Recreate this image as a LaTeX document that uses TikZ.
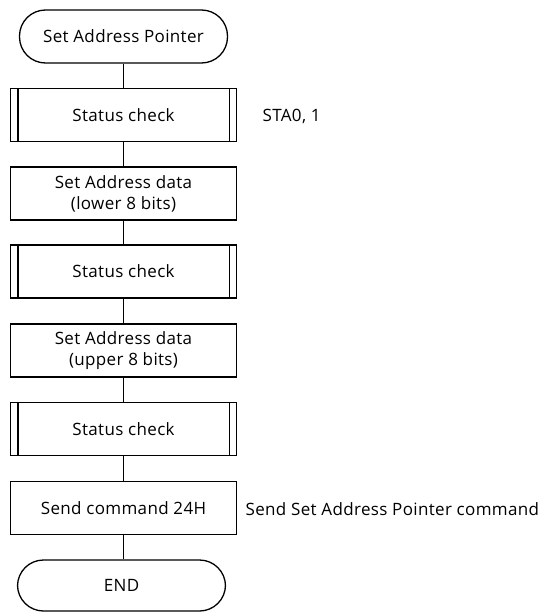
\documentclass[tikz,border=0pt]{standalone}
\usepackage{fontspec}
\setmainfont[LetterSpace=2]{Open Sans}
\begin{document}
\begin{tikzpicture}[x=1pt,y=-1pt, line width=1.3pt,
  every node/.style={font=\fontsize{17}{21}\selectfont},
  box/.style={draw, minimum width=226pt, minimum height=53pt, inner sep=0pt, align=center},
  term/.style={draw, rounded corners=26pt, minimum width=208pt, minimum height=53pt, inner sep=0pt},
  note/.style={anchor=west, inner sep=0pt}]
\useasboundingbox (0,0) rectangle (555,613);
\node[term] (start) at (123.5,36.5) {Set Address Pointer};
\node[box] (sc1) at (123.5,115) {Status check};
\node[box] (low) at (123.5,193.5) {Set Address data\\(lower 8 bits)};
\node[box] (sc2) at (123.5,271.5) {Status check};
\node[box] (up) at (123.5,350.5) {Set Address data\\(upper 8 bits)};
\node[box] (sc3) at (123.5,429) {Status check};
\node[box] (send) at (123.5,508) {Send command 24H};
\node[term, minimum height=51pt] (end) at (121.5,585.5) {END};
\foreach \n in {sc1,sc2,sc3}{
  \draw ([xshift=8pt]\n.north west) -- ([xshift=8pt]\n.south west);
  \draw ([xshift=-8pt]\n.north east) -- ([xshift=-8pt]\n.south east);
}
\node[note] (n1) at (262,116) {STA0, 1};
\node[note] (n2) at (245,509) {Send Set Address Pointer command};
\draw (start) -- (sc1);
\draw (sc1) -- (low);
\draw (low) -- (sc2);
\draw (sc2) -- (up);
\draw (up) -- (sc3);
\draw (sc3) -- (send);
\draw (send.south) -- (send.south |- end.north);
\end{tikzpicture}
\end{document}
